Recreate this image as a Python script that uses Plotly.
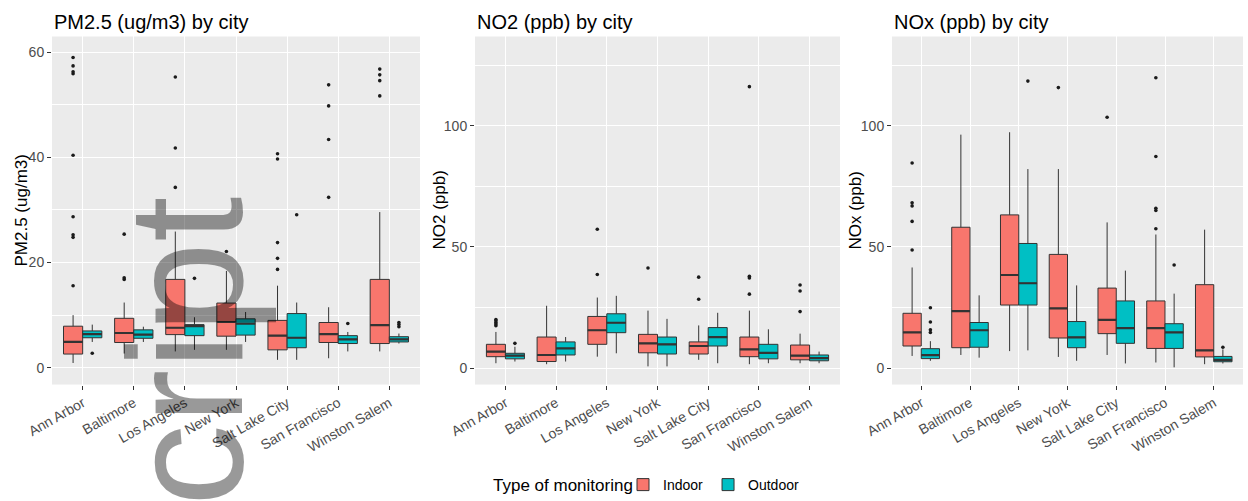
import plotly.graph_objects as go

cities = ["Ann Arbor", "Baltimore", "Los Angeles", "New York",
          "Salt Lake City", "San Francisco", "Winston Salem"]
panel_titles = ["PM2.5 (ug/m3) by city", "NO2 (ppb) by city", "NOx (ppb) by city"]
axis_titles = ["PM2.5 (ug/m3)", "NO2 (ppb)", "NOx (ppb)"]
types = ["Indoor", "Outdoor"]
legend_title = "Type of monitoring"

# ---- PM2.5 ----
pm25_indoor_low = [0.9, 2.7, 3.1, 3.4, 1.5, 1.8, 3.1]
pm25_indoor_q1 = [2.6, 4.8, 6.3, 6.0, 3.4, 4.8, 4.6]
pm25_indoor_med = [4.9, 6.6, 7.6, 8.7, 6.1, 6.4, 8.1]
pm25_indoor_q3 = [7.9, 9.4, 16.8, 12.3, 9.0, 8.6, 16.8]
pm25_indoor_high = [10.0, 12.4, 25.9, 18.4, 15.6, 11.5, 29.6]
pm25_indoor_out = [[15.6, 24.8, 25.3, 28.7, 40.4, 55.9, 56.3, 57.4, 59.0],
                   [16.8, 17.1, 25.4], [34.3, 41.8, 55.3], [22.1],
                   [18.7, 20.8, 23.8, 39.7, 40.7], [32.4, 43.4, 49.8, 53.8],
                   [51.7, 54.6, 55.7, 56.8]]
pm25_outdoor_low = [4.9, 4.9, 3.4, 4.9, 1.5, 3.1, 4.6]
pm25_outdoor_q1 = [5.7, 5.6, 6.1, 6.2, 3.8, 4.6, 4.9]
pm25_outdoor_med = [6.4, 6.3, 7.9, 8.4, 5.7, 5.4, 5.4]
pm25_outdoor_q3 = [7.0, 7.2, 8.2, 9.3, 10.3, 6.1, 5.9]
pm25_outdoor_high = [8.2, 7.8, 9.6, 10.6, 12.4, 6.8, 6.5]
pm25_outdoor_out = [[2.75], [], [17.0], [], [29.1], [8.4], [7.8, 8.2, 8.6]]

# ---- NO2 ----
no2_indoor_low = [2.0, 1.6, 4.7, 0.7, 3.4, 1.6, 2.0]
no2_indoor_q1 = [4.7, 2.7, 9.8, 6.3, 5.8, 4.7, 3.4]
no2_indoor_med = [6.8, 5.4, 15.6, 10.2, 9.1, 7.7, 5.1]
no2_indoor_q3 = [9.8, 12.8, 21.3, 13.9, 10.8, 12.8, 9.5]
no2_indoor_high = [14.9, 25.7, 29.1, 23.7, 17.6, 23.7, 14.2]
no2_indoor_out = [[17.5, 18.2, 18.8, 19.5, 20.0], [], [38.6, 57.3], [41.3],
                  [28.4, 37.5], [30.5, 37.2, 37.9, 116.1], [23.3, 31.8, 34.3]]
no2_outdoor_low = [2.7, 2.7, 6.1, 0.7, 2.0, 2.0, 2.0]
no2_outdoor_q1 = [3.8, 5.4, 14.6, 5.8, 9.1, 3.8, 3.0]
no2_outdoor_med = [5.1, 8.1, 18.7, 9.8, 12.8, 6.3, 4.1]
no2_outdoor_q3 = [6.1, 10.8, 22.4, 12.8, 16.7, 9.8, 5.4]
no2_outdoor_high = [8.8, 12.8, 29.8, 20.3, 22.8, 16.0, 6.8]
no2_outdoor_out = [[10.2], [], [], [], [], [], []]

# ---- NOx ----
nox_indoor_low = [5.0, 5.4, 7.0, 4.6, 5.4, 2.3, 1.6]
nox_indoor_q1 = [9.1, 8.4, 26.0, 12.4, 14.2, 8.1, 4.6]
nox_indoor_med = [14.7, 23.5, 38.4, 24.6, 19.9, 16.5, 7.3]
nox_indoor_q3 = [22.6, 58.1, 63.2, 46.9, 33.0, 27.7, 34.4]
nox_indoor_high = [41.5, 96.3, 97.3, 82.1, 60.1, 55.1, 57.1]
nox_indoor_out = [[48.7, 60.5, 66.9, 68.2, 84.6], [], [], [115.7], [103.5],
                  [57.5, 65.0, 65.9, 87.3, 119.8], []]
nox_outdoor_low = [3.0, 4.3, 7.3, 3.0, 1.9, 0.3, 1.9]
nox_outdoor_q1 = [3.9, 8.6, 26.0, 8.4, 10.2, 8.1, 2.6]
nox_outdoor_med = [5.3, 15.6, 35.0, 12.7, 16.5, 14.7, 3.4]
nox_outdoor_q3 = [8.0, 18.8, 51.4, 19.2, 27.7, 18.3, 4.8]
nox_outdoor_high = [11.1, 30.0, 82.1, 34.1, 40.2, 30.7, 7.7]
nox_outdoor_out = [[14.7, 15.8, 19.0, 24.9], [], [118.4], [], [], [42.5], [8.6]]

panels = [
    [(pm25_indoor_low, pm25_indoor_q1, pm25_indoor_med, pm25_indoor_q3, pm25_indoor_high, pm25_indoor_out),
     (pm25_outdoor_low, pm25_outdoor_q1, pm25_outdoor_med, pm25_outdoor_q3, pm25_outdoor_high, pm25_outdoor_out)],
    [(no2_indoor_low, no2_indoor_q1, no2_indoor_med, no2_indoor_q3, no2_indoor_high, no2_indoor_out),
     (no2_outdoor_low, no2_outdoor_q1, no2_outdoor_med, no2_outdoor_q3, no2_outdoor_high, no2_outdoor_out)],
    [(nox_indoor_low, nox_indoor_q1, nox_indoor_med, nox_indoor_q3, nox_indoor_high, nox_indoor_out),
     (nox_outdoor_low, nox_outdoor_q1, nox_outdoor_med, nox_outdoor_q3, nox_outdoor_high, nox_outdoor_out)],
]

W, H = 1248, 501
FONT = "Liberation Sans, Arial, sans-serif"
colors = ["#F8766D", "#00BFC4"]
offsets = [-0.1875, 0.1875]
bw = 0.375
edge = "#333333"

x_domains = [(52, 420), (475, 840), (892, 1243)]
y_top, y_bot = 37, 390
y_ranges = [[-3.2, 63], [-6.8, 136.8], [-6.8, 136.8]]
y_ticks = [[0, 20, 40, 60], [0, 50, 100], [0, 50, 100]]
y_minor = [10, 25, 25]
title_x = [52, 475, 892]
ytitle_x = [22, 440, 856]

fig = go.Figure()
for p, groups in enumerate(panels):
    xa = "x" if p == 0 else f"x{p+1}"
    ya = "y" if p == 0 else f"y{p+1}"
    for g, (low, q1, med, q3, high, outs) in enumerate(groups):
        pos = [i + 1 + offsets[g] for i in range(len(cities))]
        fig.add_trace(go.Box(
            x=pos, lowerfence=low, q1=q1, median=med, q3=q3, upperfence=high,
            width=bw, fillcolor=colors[g], line=dict(color=edge, width=1),
            whiskerwidth=0, boxpoints=False, name=types[g],
            legendgroup=types[g], showlegend=(p == 0),
            xaxis=xa, yaxis=ya, hoverinfo="skip"))
        mx, my = [], []
        for c, m in zip(pos, med):
            mx += [c - bw / 2, c + bw / 2, None]
            my += [m, m, None]
        fig.add_trace(go.Scatter(x=mx, y=my, mode="lines",
                                 line=dict(color=edge, width=2.2),
                                 showlegend=False, xaxis=xa, yaxis=ya, hoverinfo="skip"))
        ox, oy = [], []
        for c, vals in zip(pos, outs):
            ox += [c] * len(vals)
            oy += vals
        fig.add_trace(go.Scatter(x=ox, y=oy, mode="markers",
                                 marker=dict(color="#1a1a1a", size=3.6),
                                 showlegend=False, xaxis=xa, yaxis=ya, hoverinfo="skip"))

layout = dict(
    width=W, height=H, margin=dict(l=0, r=0, t=0, b=0),
    paper_bgcolor="white", plot_bgcolor="#EBEBEB",
    font=dict(family=FONT, color="#4D4D4D", size=14),
    showlegend=True,
    legend=dict(orientation="h", x=623 / W, xanchor="left", y=1 - 492 / H, yanchor="middle",
                font=dict(size=14, color="black"), itemwidth=30, tracegroupgap=0,
                bgcolor="rgba(0,0,0,0)"),
    annotations=[],
)
for p in range(3):
    sfx = "" if p == 0 else str(p + 1)
    layout["xaxis" + sfx] = dict(
        domain=[x_domains[p][0] / W, x_domains[p][1] / W], anchor="y" + sfx,
        range=[0.4, 7.6], tickvals=list(range(1, 8)), ticktext=cities, tickangle=-30,
        showgrid=True, gridcolor="white", gridwidth=1.1, zeroline=False, showline=False,
        ticks="outside", ticklen=4, tickcolor=edge, tickwidth=1,
        tickfont=dict(size=14, color="#4D4D4D"), automargin=False, fixedrange=True)
    layout["yaxis" + sfx] = dict(
        domain=[1 - y_bot / H, 1 - y_top / H], anchor="x" + sfx,
        range=y_ranges[p], tickvals=y_ticks[p],
        showgrid=True, gridcolor="white", gridwidth=1.1, zeroline=False, showline=False,
        ticks="outside", ticklen=4, tickcolor=edge, tickwidth=1,
        minor=dict(dtick=y_minor[p], tick0=0, showgrid=True, gridcolor="white", gridwidth=0.5),
        tickfont=dict(size=14, color="#4D4D4D"), automargin=False, fixedrange=True)
    layout["annotations"].append(dict(
        text=panel_titles[p], xref="paper", yref="paper", x=title_x[p] / W, y=1 - 22 / H,
        xanchor="left", yanchor="middle", showarrow=False,
        font=dict(size=20, color="black", family=FONT)))
    layout["annotations"].append(dict(
        text=axis_titles[p], xref="paper", yref="paper", x=ytitle_x[p] / W,
        y=1 - (y_top + y_bot) / 2 / H, xanchor="center", yanchor="middle",
        textangle=-90, showarrow=False, font=dict(size=17, color="black", family=FONT)))

# legend title
layout["annotations"].append(dict(
    text=legend_title, xref="paper", yref="paper", x=491 / W, y=1 - 492 / H,
    xanchor="left", yanchor="middle", showarrow=False,
    font=dict(size=17, color="black", family=FONT)))

# watermark
layout["annotations"].append(dict(
    text="cript", xref="paper", yref="paper", x=185 / W, y=1 - 197 / H,
    xanchor="center", yanchor="top", textangle=-90, showarrow=False,
    font=dict(size=164, color="rgba(0,0,0,0.4)", family=FONT)))

fig.update_layout(**layout)
fig.write_html("out.html")
